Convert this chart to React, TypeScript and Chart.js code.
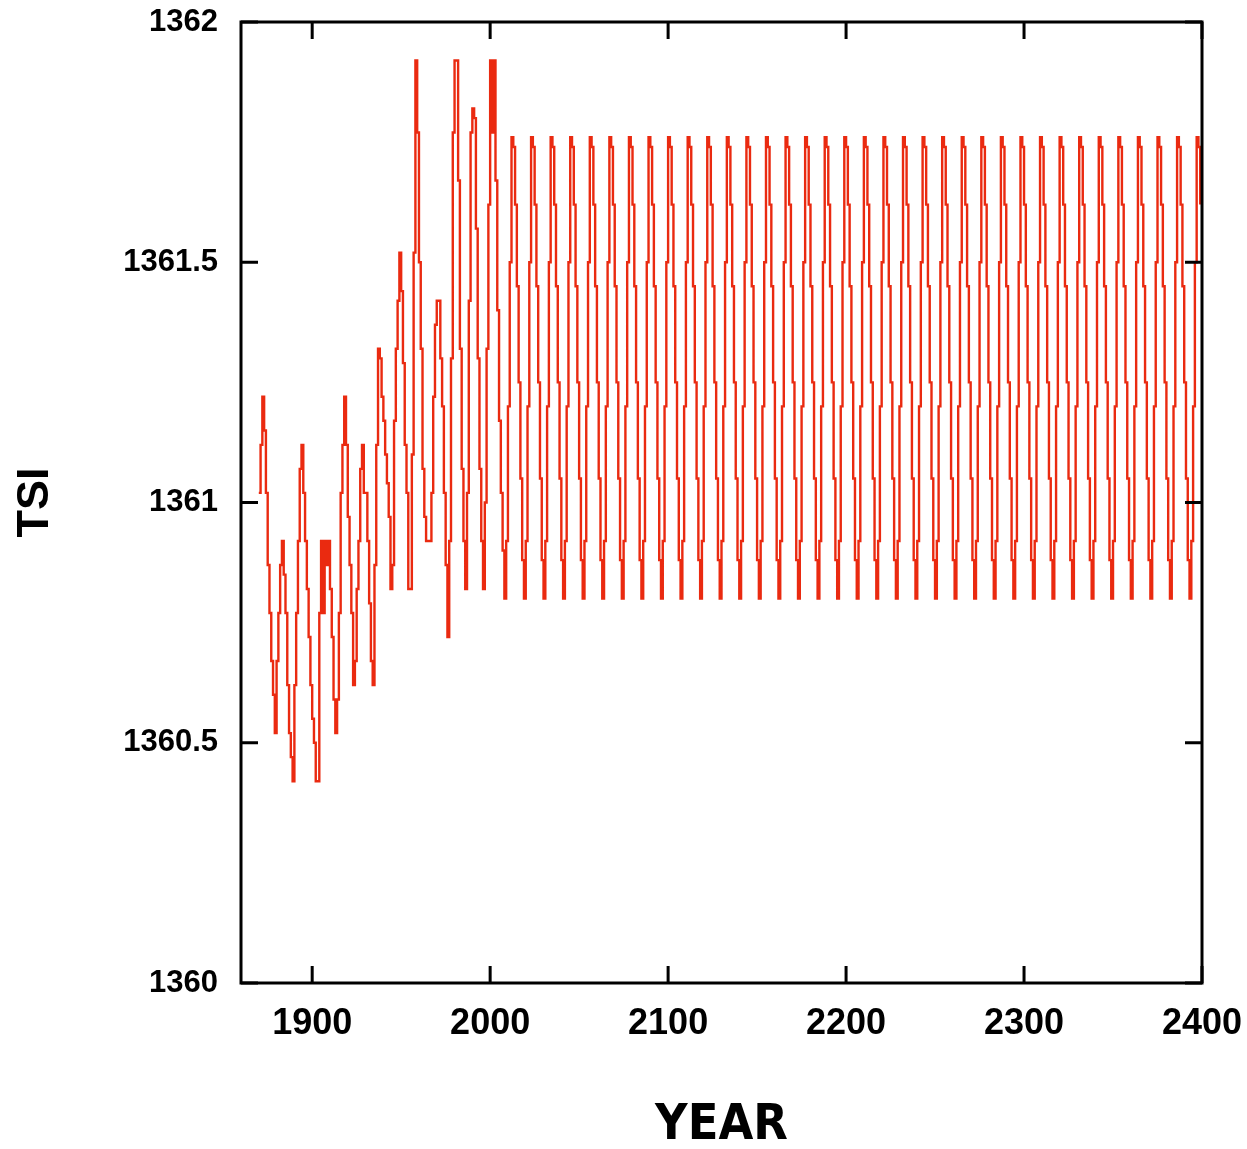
import React, { useEffect, useRef } from 'react';
import { Chart, registerables } from 'chart.js';

Chart.register(...registerables);

// ---- Data ----
const HIST_START_YEAR = 1870;
// Annual TSI values, 1870 .. 2007
const historicalTSI = [
  // 1870-1879
  1361.02, 1361.12, 1361.22, 1361.15, 1361.02, 1360.87, 1360.77, 1360.67, 1360.6, 1360.52,
  // 1880-1889
  1360.67, 1360.77, 1360.87, 1360.92, 1360.85, 1360.77, 1360.62, 1360.52, 1360.47, 1360.42,
  // 1890-1899
  1360.62, 1360.77, 1360.92, 1361.07, 1361.12, 1361.02, 1360.92, 1360.82, 1360.72, 1360.62,
  // 1900-1909
  1360.55, 1360.5, 1360.42, 1360.42, 1360.77, 1360.92, 1360.77, 1360.92, 1360.87, 1360.92,
  // 1910-1919
  1360.82, 1360.72, 1360.59, 1360.52, 1360.59, 1360.77, 1361.02, 1361.12, 1361.22, 1361.12,
  // 1920-1929
  1360.97, 1360.87, 1360.77, 1360.62, 1360.67, 1360.82, 1360.92, 1361.07, 1361.12, 1361.02,
  // 1930-1939
  1361.02, 1360.92, 1360.79, 1360.67, 1360.62, 1360.87, 1361.12, 1361.32, 1361.3, 1361.22,
  // 1940-1949
  1361.17, 1361.1, 1361.04, 1360.97, 1360.82, 1360.87, 1361.17, 1361.32, 1361.42, 1361.52,
  // 1950-1959
  1361.44, 1361.29, 1361.12, 1361.02, 1360.82, 1360.82, 1361.1, 1361.52, 1361.92, 1361.77,
  // 1960-1969
  1361.5, 1361.32, 1361.07, 1360.97, 1360.92, 1360.92, 1360.92, 1361.02, 1361.22, 1361.37,
  // 1970-1979
  1361.42, 1361.42, 1361.3, 1361.2, 1361.02, 1360.87, 1360.72, 1360.92, 1361.3, 1361.77,
  // 1980-1989
  1361.92, 1361.92, 1361.67, 1361.32, 1361.07, 1360.92, 1360.82, 1361.02, 1361.42, 1361.77,
  // 1990-1999
  1361.82, 1361.8, 1361.57, 1361.3, 1361.07, 1360.92, 1360.82, 1361.0, 1361.32, 1361.62,
  // 2000-2007
  1361.92, 1361.77, 1361.92, 1361.67, 1361.4, 1361.17, 1361.02, 1360.9,
];

// Future: the same 11-year cycle is repeated from 2008 to the end of the record
const FUTURE_START_YEAR = 2008;
const FUTURE_END_YEAR = 2399;
const futureCycleTSI = [1360.8, 1360.92, 1361.2, 1361.5, 1361.76, 1361.74, 1361.62, 1361.45, 1361.25, 1361.05, 1360.88];

const xTickYears = [1900, 2000, 2100, 2200, 2300, 2400];
const yTickValues = [1360, 1360.5, 1361, 1361.5, 1362];
const X_MIN = 1860;
const X_MAX = 2400;
const Y_MIN = 1360;
const Y_MAX = 1362;

const X_TITLE = 'YEAR';
const Y_TITLE = 'TSI';

function buildSeries() {
  const pts: { x: number; y: number }[] = [];
  historicalTSI.forEach((v, i) => pts.push({ x: HIST_START_YEAR + i, y: v }));
  for (let yr = FUTURE_START_YEAR; yr <= FUTURE_END_YEAR; yr++) {
    pts.push({ x: yr, y: futureCycleTSI[(yr - FUTURE_START_YEAR) % futureCycleTSI.length] });
  }
  return pts;
}

const framePlugin = {
  id: 'frameTicks',
  afterDraw(chart: any) {
    const { ctx, chartArea } = chart;
    const { left, right, top, bottom } = chartArea;
    const xs = chart.scales.x;
    const ys = chart.scales.y;
    const L = 17;
    ctx.save();
    ctx.strokeStyle = '#000';
    ctx.lineWidth = 3;
    ctx.beginPath();
    xTickYears.forEach((v) => {
      const px = xs.getPixelForValue(v);
      ctx.moveTo(px, bottom);
      ctx.lineTo(px, bottom - L);
      ctx.moveTo(px, top);
      ctx.lineTo(px, top + L);
    });
    yTickValues.forEach((v) => {
      const py = ys.getPixelForValue(v);
      ctx.moveTo(left, py);
      ctx.lineTo(left + L, py);
      ctx.moveTo(right, py);
      ctx.lineTo(right - L, py);
    });
    ctx.stroke();
    ctx.strokeRect(left, top, right - left, bottom - top);
    ctx.restore();
  },
};

function zeroPadding(scale: any) {
  scale.paddingLeft = 0;
  scale.paddingRight = 0;
  scale.paddingTop = 0;
  scale.paddingBottom = 0;
}

export default function App() {
  const canvasRef = useRef<HTMLCanvasElement | null>(null);

  useEffect(() => {
    document.body.style.margin = '0';
    const canvas = canvasRef.current;
    if (!canvas) return;
    const chart = new Chart(canvas, {
      type: 'line',
      data: {
        datasets: [
          {
            label: 'TSI',
            data: buildSeries(),
            borderColor: '#ea2a10',
            borderWidth: 2.4,
            pointRadius: 0,
            stepped: 'before',
            fill: false,
          },
        ],
      },
      options: {
        responsive: false,
        maintainAspectRatio: false,
        devicePixelRatio: 1,
        animation: false,
        layout: { padding: { top: 22, right: 45, left: 0, bottom: 0 } },
        plugins: { legend: { display: false }, tooltip: { enabled: false } },
        scales: {
          x: {
            type: 'linear',
            min: X_MIN,
            max: X_MAX,
            afterBuildTicks: (scale: any) => {
              scale.ticks = xTickYears.map((value) => ({ value }));
            },
            afterFit: (scale: any) => {
              scale.height = 166;
              zeroPadding(scale);
            },
            grid: { display: false, drawTicks: false },
            border: { display: false },
            ticks: {
              color: '#000',
              padding: 19,
              maxRotation: 0,
              autoSkip: false,
              font: { family: "'Liberation Sans', Arial, sans-serif", weight: 'bold', size: 36 },
              callback: (v: any) => String(v),
            },
            title: {
              display: true,
              text: X_TITLE,
              color: '#000',
              padding: { top: 0, bottom: 0 },
              font: { family: "'DejaVu Sans Condensed', 'Liberation Sans', sans-serif", weight: 'bold', size: 50, lineHeight: 0.9 },
            },
          },
          y: {
            type: 'linear',
            min: Y_MIN,
            max: Y_MAX,
            afterBuildTicks: (scale: any) => {
              scale.ticks = yTickValues.map((value) => ({ value }));
            },
            afterFit: (scale: any) => {
              scale.width = 241;
              zeroPadding(scale);
            },
            grid: { display: false, drawTicks: false },
            border: { display: false },
            ticks: {
              color: '#000',
              padding: 23,
              font: { family: "'Liberation Sans', Arial, sans-serif", weight: 'bold', size: 31 },
              callback: (v: any) => String(v),
            },
            title: {
              display: true,
              text: Y_TITLE,
              color: '#000',
              padding: { top: 9, bottom: 0 },
              font: { family: "'Liberation Sans', Arial, sans-serif", weight: 'bold', size: 45, lineHeight: 1.2 },
            },
          },
        },
      },
      plugins: [framePlugin],
    });
    return () => chart.destroy();
  }, []);

  return (
    <div style={{ width: 1247, height: 1149 }}>
      <canvas ref={canvasRef} width={1247} height={1149} style={{ display: 'block' }} />
    </div>
  );
}
